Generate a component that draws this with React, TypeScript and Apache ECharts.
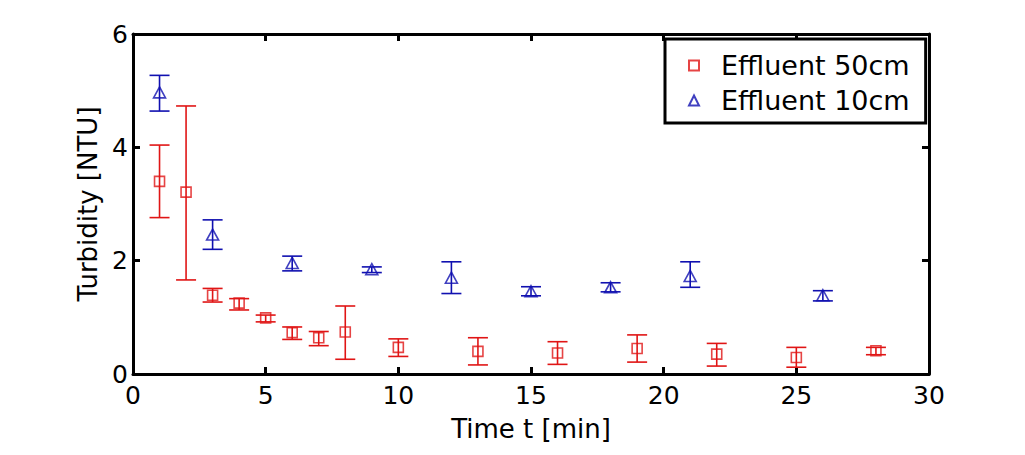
import React, { useEffect, useRef } from "react";
import * as echarts from "echarts";

const t50 = [1, 2, 3, 4, 5, 6, 7, 8, 10, 13, 16, 19, 22, 25, 28];
const mean50 = [3.40, 3.21, 1.39, 1.25, 0.99, 0.73, 0.64, 0.74, 0.47, 0.40, 0.37, 0.45, 0.35, 0.29, 0.41];
const lo50 = [2.76, 1.66, 1.27, 1.13, 0.92, 0.61, 0.50, 0.26, 0.31, 0.16, 0.17, 0.21, 0.14, 0.12, 0.34];
const hi50 = [4.04, 4.73, 1.51, 1.33, 1.04, 0.83, 0.75, 1.20, 0.62, 0.64, 0.57, 0.69, 0.54, 0.47, 0.47];

const t10 = [1, 3, 6, 9, 12, 15, 18, 21, 26];
const mean10 = [4.97, 2.46, 1.96, 1.85, 1.70, 1.46, 1.53, 1.73, 1.39];
const lo10 = [4.64, 2.20, 1.82, 1.79, 1.42, 1.38, 1.45, 1.53, 1.29];
const hi10 = [5.27, 2.72, 2.08, 1.89, 1.98, 1.54, 1.61, 1.98, 1.47];

const RED = "#e01515";
const BLUE = "#1010b0";

function errRender(color: string) {
  return (params: any, api: any) => {
    const x = api.value(0);
    const lo = api.coord([x, api.value(1)]);
    const hi = api.coord([x, api.value(2)]);
    const hw = 10;
    const style = { stroke: color, lineWidth: 1.6, fill: "none" };
    return {
      type: "group",
      children: [
        { type: "line", shape: { x1: lo[0], y1: lo[1], x2: hi[0], y2: hi[1] }, style },
        { type: "line", shape: { x1: lo[0] - hw, y1: lo[1], x2: lo[0] + hw, y2: lo[1] }, style },
        { type: "line", shape: { x1: hi[0] - hw, y1: hi[1], x2: hi[0] + hw, y2: hi[1] }, style },
      ],
    };
  };
}

export default function App() {
  const ref = useRef<HTMLDivElement>(null);
  useEffect(() => {
    const chart = echarts.init(ref.current!, null, { renderer: "svg" });
    const font = "DejaVu Sans";
    const axisCommon = {
      type: "value",
      axisLine: { show: true, onZero: false, lineStyle: { color: "#000", width: 3 } },
      axisTick: { show: true, inside: true, length: 7, lineStyle: { color: "#000", width: 3 } },
      splitLine: { show: false },
    };
    chart.setOption({
      animation: false,
      backgroundColor: "#fff",
      grid: { left: 125, top: 26, width: 796, height: 346 },
      legend: {
        orient: "vertical",
        left: 657,
        top: 31,
        padding: [13, 16, 9, 23],
        itemGap: 8,
        itemWidth: 10,
        itemHeight: 10,
        borderColor: "#000",
        borderWidth: 3,
        backgroundColor: "#fff",
        textStyle: { fontFamily: font, fontSize: 27, color: "#000", padding: [0, 0, 0, 17] },
        data: [
          { name: "Effluent 50cm", icon: "rect" },
          { name: "Effluent 10cm", icon: "triangle" },
        ],
      },
      xAxis: [
        {
          ...axisCommon,
          min: 0,
          max: 30,
          interval: 5,
          position: "bottom",
          name: "Time t [min]",
          nameLocation: "middle",
          nameGap: 42,
          nameTextStyle: { fontFamily: font, fontSize: 26, color: "#000" },
          axisLabel: { fontFamily: font, fontSize: 25, color: "#000", margin: 9 },
        },
        { ...axisCommon, min: 0, max: 30, interval: 5, position: "top", axisLabel: { show: false } },
      ],
      yAxis: [
        {
          ...axisCommon,
          min: 0,
          max: 6,
          interval: 2,
          position: "left",
          name: "Turbidity [NTU]",
          nameLocation: "middle",
          nameGap: 31,
          nameTextStyle: { fontFamily: font, fontSize: 26, color: "#000" },
          axisLabel: { fontFamily: font, fontSize: 25, color: "#000", margin: 5 },
        },
        { ...axisCommon, min: 0, max: 6, interval: 2, position: "right", axisLabel: { show: false } },
      ],
      series: [
        {
          name: "Effluent 50cm",
          type: "scatter",
          symbol: "rect",
          symbolSize: 10,
          itemStyle: { color: "#fff", borderColor: RED, borderWidth: 1.6 },
          data: t50.map((t, i) => [t, mean50[i]]),
          z: 3,
        },
        {
          name: "Effluent 10cm",
          type: "scatter",
          symbol: "triangle",
          symbolSize: [12, 11],
          itemStyle: { color: "#fff", borderColor: BLUE, borderWidth: 1.6 },
          data: t10.map((t, i) => [t, mean10[i]]),
          z: 3,
        },
        {
          type: "custom",
          renderItem: errRender(RED),
          data: t50.map((t, i) => [t, lo50[i], hi50[i]]),
          z: 4,
        },
        {
          type: "custom",
          renderItem: errRender(BLUE),
          data: t10.map((t, i) => [t, lo10[i], hi10[i]]),
          z: 4,
        },
      ],
    });
    return () => chart.dispose();
  }, []);
  return <div ref={ref} style={{ width: 1009, height: 439 }} />;
}
